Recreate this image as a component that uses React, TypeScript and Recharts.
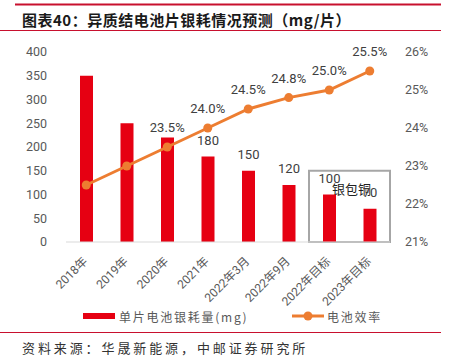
import React from 'react';
import { ComposedChart, Bar, Line, XAxis, YAxis, LabelList, ReferenceArea } from 'recharts';

const categories = ['2018年', '2019年', '2020年', '2021年', '2022年3月', '2022年9月', '2022年目标', '2023年目标'];
const silverUse = [350, 250, 220, 180, 150, 120, 100, 70];
const efficiency = [22.5, 23.0, 23.5, 24.0, 24.5, 24.8, 25.0, 25.5];
const leftTicks = [0, 50, 100, 150, 200, 250, 300, 350, 400];
const rightTicks = [21, 22, 23, 24, 25, 26];
const barLabelFrom = 3;
const lineLabelFrom = 2;
const boxTop = 150;
const boxText = '银包铜';

const data = categories.map((c, i) => ({ name: c, silver: silverUse[i], eff: efficiency[i] }));

const RED = '#E60012';
const ORANGE = '#ED7D31';
const GRAY = '#595959';
const TITLE_RED = '#C8102E';
const FONT = "Roboto, 'Noto Sans CJK SC', sans-serif";
const CJK = "'Noto Sans CJK SC', sans-serif";

const XTick = (props: any) => {
  const { x, y, payload } = props;
  const tx = x + 2;
  const ty = y + 20;
  return (
    <text x={tx} y={ty} transform={`rotate(-45 ${tx} ${ty})`} textAnchor="end" fontSize={12} fill={GRAY} fontFamily={FONT}>
      {payload.value}
    </text>
  );
};

const BarLabel = (props: any) => {
  const { x, y, width, value, index } = props;
  if (index < barLabelFrom) return null;
  return (
    <text x={x + width / 2} y={y - 12} textAnchor="middle" fontSize={13} fill="#404040" fontFamily={FONT}>
      {value}
    </text>
  );
};

const LineLabel = (props: any) => {
  const { x, y, value, index } = props;
  if (index < lineLabelFrom) return null;
  return (
    <text x={x} y={y - 15} textAnchor="middle" fontSize={13} fill="#404040" fontFamily={FONT}>
      {Number(value).toFixed(1)}%
    </text>
  );
};

const BoxLabel = (props: any) => {
  const vb = props.viewBox || {};
  return (
    <text x={vb.x + vb.width / 2 + 2} y={vb.y + 23} textAnchor="middle" fontSize={13} fill="#222" fontFamily={CJK}>
      {boxText}
    </text>
  );
};

export default function App() {
  return (
    <div style={{ position: 'absolute', left: 0, top: 0, width: 454, height: 364, background: '#fff' }}>
      <ComposedChart width={454} height={364} data={data} margin={{ top: 52, right: 0, bottom: 0, left: 0 }}>
        <XAxis
          dataKey="name"
          height={122}
          interval={0}
          tickLine={false}
          tickSize={0}
          tickMargin={0}
          axisLine={{ stroke: '#d9d9d9', strokeWidth: 1 }}
          tick={<XTick />}
        />
        <YAxis
          yAxisId="left"
          width={66}
          domain={[0, 400]}
          ticks={leftTicks}
          interval={0}
          axisLine={false}
          tickLine={false}
          tickSize={0}
          tickMargin={19}
          tick={{ fontSize: 12.5, fill: GRAY, fontFamily: FONT }}
        />
        <YAxis
          yAxisId="right"
          orientation="right"
          width={64}
          domain={[21, 26]}
          ticks={rightTicks}
          interval={0}
          axisLine={false}
          tickLine={false}
          tickSize={0}
          tickMargin={15}
          tickFormatter={(v: number) => `${v}%`}
          tick={{ fontSize: 12.5, fill: GRAY, fontFamily: FONT }}
        />
        <Bar yAxisId="left" dataKey="silver" fill={RED} barSize={13} isAnimationActive={false}>
          <LabelList dataKey="silver" content={<BarLabel />} />
        </Bar>
        <ReferenceArea
          yAxisId="left"
          x1={categories[6]}
          x2={categories[7]}
          y1={0}
          y2={boxTop}
          fill="none"
          fillOpacity={0}
          stroke="#a6a6a6"
          strokeWidth={2}
          label={<BoxLabel />}
          ifOverflow="visible"
        />
        <Line
          yAxisId="right"
          dataKey="eff"
          stroke={ORANGE}
          strokeWidth={3}
          dot={{ r: 4.5, fill: ORANGE, stroke: ORANGE, strokeWidth: 0 }}
          isAnimationActive={false}
        >
          <LabelList dataKey="eff" content={<LineLabel />} />
        </Line>
      </ComposedChart>
      <svg width={454} height={364} style={{ position: 'absolute', left: 0, top: 0, pointerEvents: 'none' }}>
        <line x1={15} x2={441} y1={4.5} y2={4.5} stroke={TITLE_RED} strokeWidth={2} />
        <text x={22} y={19} dominantBaseline="central" fontSize={15} fontWeight={700} letterSpacing={0.5} fill="#1a1a1a" fontFamily={CJK}>
          图表40：异质结电池片银耗情况预测（mg/片）
        </text>
        <line x1={0} x2={441} y1={30.5} y2={30.5} stroke={TITLE_RED} strokeWidth={1} />
        <rect x={83} y={313} width={32} height={6} fill={RED} />
        <text x={119} y={316} dominantBaseline="central" fontSize={12} letterSpacing={1.75} fill={GRAY} fontFamily={CJK}>
          单片电池银耗量(mg)
        </text>
        <line x1={292} x2={324} y1={316} y2={316} stroke={ORANGE} strokeWidth={3} />
        <circle cx={308} cy={316} r={4.5} fill={ORANGE} />
        <text x={327} y={316} dominantBaseline="central" fontSize={12} letterSpacing={1.75} fill={GRAY} fontFamily={CJK}>
          电池效率
        </text>
        <line x1={0} x2={441} y1={332.5} y2={332.5} stroke={TITLE_RED} strokeWidth={1} />
        <text x={22} y={347} dominantBaseline="central" fontSize={13} letterSpacing={2.9} fill="#333" fontFamily={CJK}>
          资料来源：华晟新能源，中邮证券研究所
        </text>
      </svg>
    </div>
  );
}
